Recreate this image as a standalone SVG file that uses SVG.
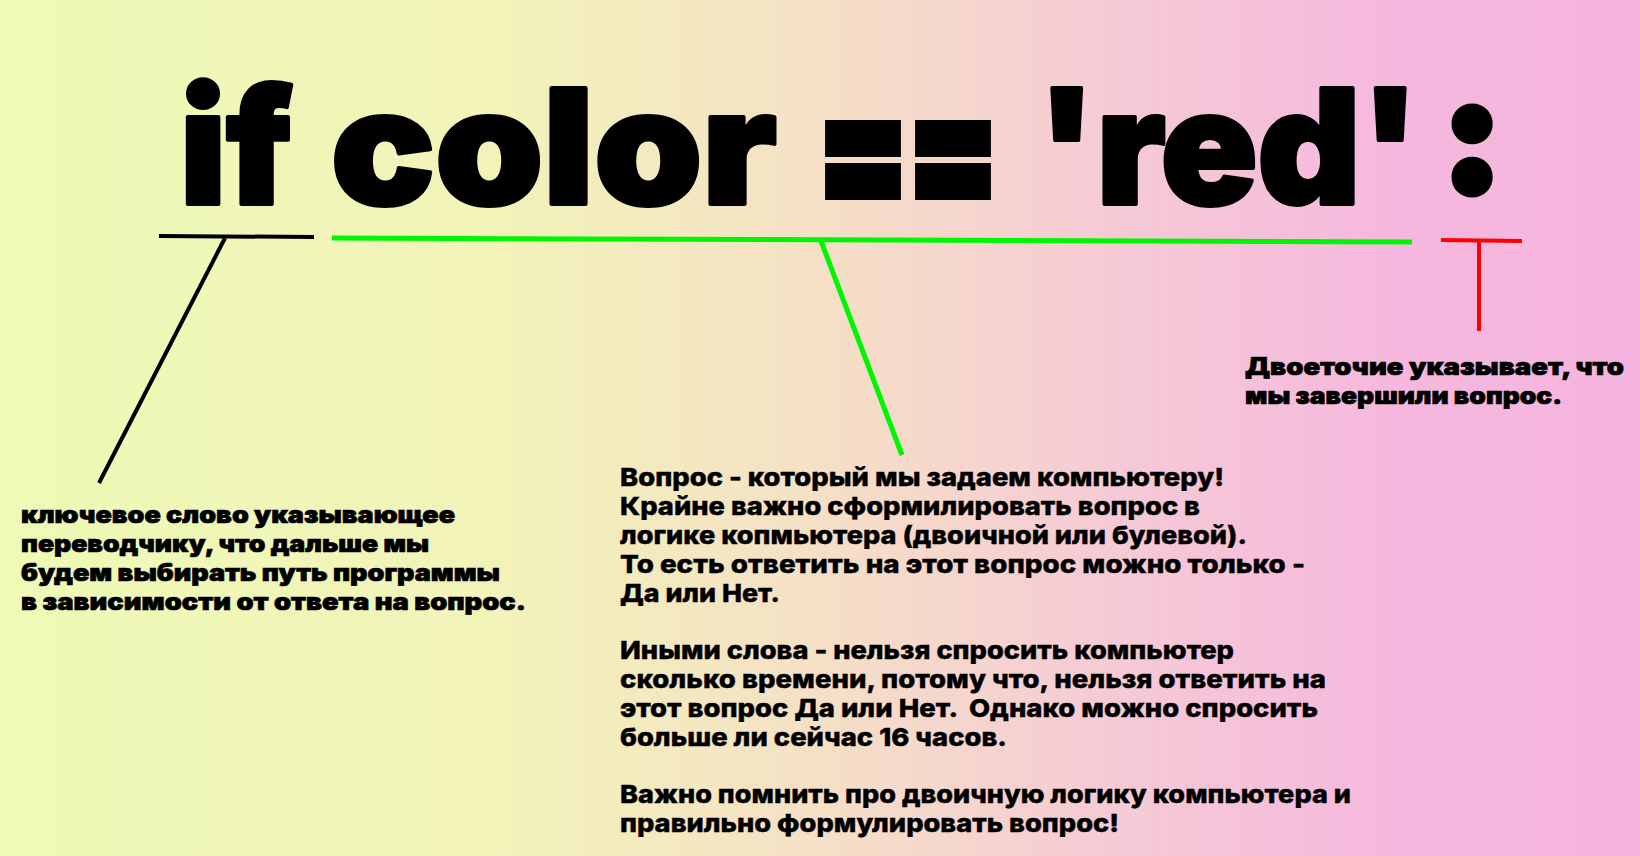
<svg xmlns="http://www.w3.org/2000/svg" width="1640" height="856" viewBox="0 0 1640 856">
  <defs>
    <linearGradient id="bg" x1="0" y1="0" x2="1" y2="0">
      <stop offset="0" stop-color="#eefab5"/>
      <stop offset="0.3" stop-color="#f2f3b9"/>
      <stop offset="0.5" stop-color="#f5e0c6"/>
      <stop offset="0.68" stop-color="#f5cad5"/>
      <stop offset="0.85" stop-color="#f6b8de"/>
      <stop offset="1" stop-color="#f5b4e0"/>
    </linearGradient>
    <style>
      .title { font-family: Inter, "Lato", "Liberation Sans", sans-serif; font-weight: 900; font-size: 160px; fill: #000; stroke: #000; stroke-width: 4; stroke-linejoin: round; }
      .eq { font-family: Inter, "Liberation Sans", sans-serif; font-weight: 900; font-size: 170px; fill: #000; stroke: #000; stroke-width: 10; }
      .colon { font-family: Inter, "Liberation Sans", sans-serif; font-weight: 900; font-size: 160px; fill: #000; stroke: #000; stroke-width: 9; stroke-linejoin: round; }
      .wide { font-family: Inter, "Liberation Sans", sans-serif; font-weight: 900; font-size: 24px; fill: #000; stroke: #000; stroke-width: 0.7; }
      .cond { font-family: Inter, "Liberation Sans", sans-serif; font-weight: 800; font-size: 25px; fill: #000; stroke: #000; stroke-width: 0.4; }
      .ln { fill: none; stroke-width: 4; stroke-linecap: butt; }
      .blk { stroke: #000; }
      .grn { stroke: #00f500; stroke-width: 5; }
      .red { stroke: #ff0000; }
    </style>
  </defs>
  <rect x="0" y="0" width="1640" height="856" fill="url(#bg)"/>

  <g id="title">
    <text class="title" x="180" y="204" textLength="112" lengthAdjust="spacingAndGlyphs">if</text>
    <text class="title" x="331" y="204" textLength="446" lengthAdjust="spacingAndGlyphs">color</text>
    <text class="eq" x="818" y="210" textLength="180" lengthAdjust="spacingAndGlyphs">==</text>
    <text class="title" x="1037" y="204" textLength="383" lengthAdjust="spacingAndGlyphs">'red'</text>
    <text class="colon" x="1472" y="191" text-anchor="middle">:</text>
  </g>

  <g id="connectors">
    <line class="ln blk" x1="159" y1="236" x2="314" y2="237"/>
    <line class="ln blk" x1="225" y1="238" x2="99" y2="483"/>
    <line class="ln grn" x1="332" y1="238" x2="1412" y2="242"/>
    <line class="ln grn" x1="821" y1="241" x2="902" y2="455"/>
    <line class="ln red" x1="1441" y1="240" x2="1522" y2="241"/>
    <line class="ln red" x1="1479" y1="241" x2="1479" y2="331"/>
  </g>

  <g id="note-if">
    <text class="wide" x="21" y="523" textLength="434" lengthAdjust="spacingAndGlyphs">ключевое слово указывающее</text>
    <text class="wide" x="21" y="552" textLength="408" lengthAdjust="spacingAndGlyphs">переводчику, что дальше мы</text>
    <text class="wide" x="21" y="581" textLength="479" lengthAdjust="spacingAndGlyphs">будем выбирать путь программы</text>
    <text class="wide" x="21" y="610" textLength="505" lengthAdjust="spacingAndGlyphs">в зависимости от ответа на вопрос.</text>
  </g>

  <g id="note-question">
    <text class="cond" x="620" y="486" textLength="604" lengthAdjust="spacingAndGlyphs">Вопрос - который мы задаем компьютеру!</text>
    <text class="cond" x="620" y="515" textLength="580" lengthAdjust="spacingAndGlyphs">Крайне важно сформилировать вопрос в</text>
    <text class="cond" x="620" y="544" textLength="627" lengthAdjust="spacingAndGlyphs">логике копмьютера (двоичной или булевой).</text>
    <text class="cond" x="620" y="573" textLength="685" lengthAdjust="spacingAndGlyphs">То есть ответить на этот вопрос можно только -</text>
    <text class="cond" x="620" y="602" textLength="160" lengthAdjust="spacingAndGlyphs">Да или Нет.</text>
    <text class="cond" x="620" y="659" textLength="614" lengthAdjust="spacingAndGlyphs">Иными слова - нельзя спросить компьютер</text>
    <text class="cond" x="620" y="688" textLength="706" lengthAdjust="spacingAndGlyphs">сколько времени, потому что, нельзя ответить на</text>
    <text class="cond" x="620" y="717" textLength="698" lengthAdjust="spacingAndGlyphs" xml:space="preserve">этот вопрос Да или Нет.  Однако можно спросить</text>
    <text class="cond" x="620" y="746" textLength="387" lengthAdjust="spacingAndGlyphs">больше ли сейчас 16 часов.</text>
    <text class="cond" x="620" y="803" textLength="731" lengthAdjust="spacingAndGlyphs">Важно помнить про двоичную логику компьютера и</text>
    <text class="cond" x="620" y="832" textLength="499" lengthAdjust="spacingAndGlyphs">правильно формулировать вопрос!</text>
  </g>

  <g id="note-colon">
    <text class="wide" x="1245" y="375" textLength="379" lengthAdjust="spacingAndGlyphs">Двоеточие указывает, что</text>
    <text class="wide" x="1245" y="404" textLength="317" lengthAdjust="spacingAndGlyphs">мы завершили вопрос.</text>
  </g>
</svg>
